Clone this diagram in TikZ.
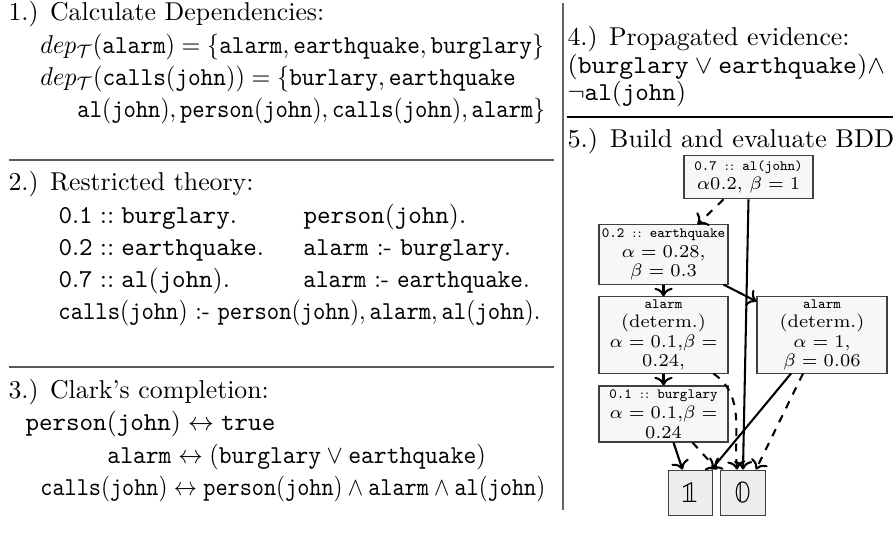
\documentclass[tikz,border=0pt]{standalone}
\usepackage{amsmath,amssymb}
\usepackage{fontspec}
\newfontfamily\lmmath{latinmodern-math.otf}
\usetikzlibrary{arrows.meta,calc}
\newcommand{\tm}[1]{\mathtt{#1}}
\newcommand{\smalltt}{\fontsize{5.5}{6.3}\selectfont\ttfamily}
\begin{document}
\begin{tikzpicture}[x=0.3876pt,y=-0.3876pt,
  txt/.style={anchor=base west, inner sep=0pt},
  sep/.style={draw=black!65, line width=0.6pt},
  bdd/.style={draw=black!75, fill=black!3, inner sep=0.5pt, align=center,
              font=\fontsize{7}{7.6}\selectfont, minimum width=50pt},
  term/.style={draw=black!75, fill=black!7, inner sep=0pt, minimum width=17.4pt, minimum height=17.8pt, font=\large},
  edge/.style={draw, thick, ->}]
\useasboundingbox (0,0) rectangle (896,535);

% ---------- left column ----------
\node[txt] (h1) at (8,21) {1.) Calculate Dependencies:};
\node[txt, xscale=0.935] (l12) at (40,54) {$dep_{\mathcal{T}}(\tm{alarm}) = \{\tm{alarm}, \tm{earthquake}, \tm{burglary}\}$};
\node[txt, xscale=0.937] (l13) at (40,86) {$dep_{\mathcal{T}}(\tm{calls}(\tm{john})) = \{\tm{burlary}, \tm{earthquake}$};
\node[txt, xscale=0.91] (l14) at (77,118) {$\tm{al}(\tm{john}), \tm{person}(\tm{john}), \tm{calls}(\tm{john}), \tm{alarm}\}$};
\coordinate (s1a) at (9,160); \coordinate (s1b) at (554,160);
\draw[sep] (s1a) -- (s1b);

\node[txt] (h2) at (8,191) {2.) Restricted theory:};
\node[txt] (l21) at (58,224) {$\tm{0.1} :: \tm{burglary}.$};
\node[txt] (l22) at (58,256) {$\tm{0.2} :: \tm{earthquake}.$};
\node[txt] (l23) at (58,288) {$\tm{0.7} :: \tm{al}(\tm{john}).$};
\node[txt] (r21) at (303,224) {$\tm{person}(\tm{john}).$};
\node[txt, xscale=0.96] (r22) at (303,256) {\texttt{alarm} :- \texttt{burglary}.};
\node[txt, xscale=0.93] (r23) at (303,288) {\texttt{alarm} :- \texttt{earthquake}.};
\node[txt, xscale=0.91] (l24) at (58,320) {$\tm{calls}(\tm{john})$ :- $\tm{person}(\tm{john}), \tm{alarm}, \tm{al}(\tm{john}).$};
\coordinate (s2a) at (9,367); \coordinate (s2b) at (554,367);
\draw[sep] (s2a) -- (s2b);

\node[txt] (h3) at (8,399) {3.) Clark’s completion:};
\node[txt] (l31) at (25,431) {$\tm{person}(\tm{john}) \leftrightarrow \tm{true}$};
\node[txt, xscale=0.945] (l32) at (107,464) {$\tm{alarm} \leftrightarrow (\tm{burglary} \vee \tm{earthquake})$};
\node[txt, xscale=0.895] (l33) at (40,496) {$\tm{calls}(\tm{john}) \leftrightarrow \tm{person}(\tm{john}) \wedge \tm{alarm} \wedge \tm{al}(\tm{john})$};

% ---------- divider ----------
\coordinate (va) at (563,3); \coordinate (vb) at (563,510);
\draw[draw=black!60, line width=0.5pt] (va) -- (vb);

% ---------- right column ----------
\node[txt] (h4) at (567,46) {4.) Propagated evidence:};
\node[txt, xscale=1.025] (l41) at (567,74) {$(\tm{burglary} \vee \tm{earthquake})\wedge$};
\node[txt] (l42) at (567,101) {$\neg\tm{al}(\tm{john})$};
\coordinate (s3a) at (567,117); \coordinate (s3b) at (893,117);
\draw[draw=black, line width=0.5pt] (s3a) -- (s3b);
\node[txt, xscale=1.02] (h5) at (567,148) {5.) Build and evaluate BDD};

% ---------- BDD ----------
\node[bdd, minimum height=17pt] (n1) at (748.5,177)
  {{\smalltt 0.7 $::$ al(john)}\\ $\alpha 0.2$, $\beta = 1$};
\node[bdd, minimum height=22.9pt] (n2) at (663.5,254.5)
  {{\smalltt 0.2 $::$ earthquake}\\ $\alpha = 0.28$,\\ $\beta = 0.3$};
\node[bdd, minimum height=29.5pt] (n3) at (663.5,335)
  {{\smalltt alarm}\\ (determ.)\\ $\alpha = 0.1$,$\beta =$\\ $0.24$,};
\node[bdd, minimum height=29.5pt, minimum width=50.4pt] (n4) at (822,335)
  {{\smalltt alarm}\\ (determ.)\\ $\alpha = 1$,\\ $\beta = 0.06$};
\node[bdd, minimum height=21.7pt] (n5) at (663.5,414)
  {{\smalltt 0.1 $::$ burglary}\\ $\alpha = 0.1$,$\beta =$\\ $0.24$};
\node[term] (one) at (690.5,493) {\lmmath 𝟙};
\node[term] (zero) at (743,493) {\lmmath 𝟘};

\draw[edge, dashed] ($(n1.south)+(-25,0)$) -- ($(n2.north)+(34,0)$);
\draw[edge] (n1.south) -- (zero.north);
\draw[edge] (n2.south) -- (n3.north);
\draw[edge] ($(n2.south)+(60,0)$) -- ($(n4.north west)+(0,5)$);
\draw[edge] (n3.south) -- (n5.north);
\draw[edge, dashed] ($(n3.south)+(50,0)$) to[out=-35,in=95] ($(zero.north)+(-6,0)$);
\draw[edge] ($(n4.south)+(-31,0)$) -- ($(one.north east)+(-2,0)$);
\draw[edge, dashed] ($(n4.south)+(-19,0)$) -- ($(zero.north east)+(-10,0)$);
\draw[edge] ($(n5.south)+(10,0)$) -- ($(one.north)+(-8,0)$);
\draw[edge, dashed] ($(n5.south)+(29,0)$) -- ($(zero.north west)+(-3,0)$);
\end{tikzpicture}
\end{document}
